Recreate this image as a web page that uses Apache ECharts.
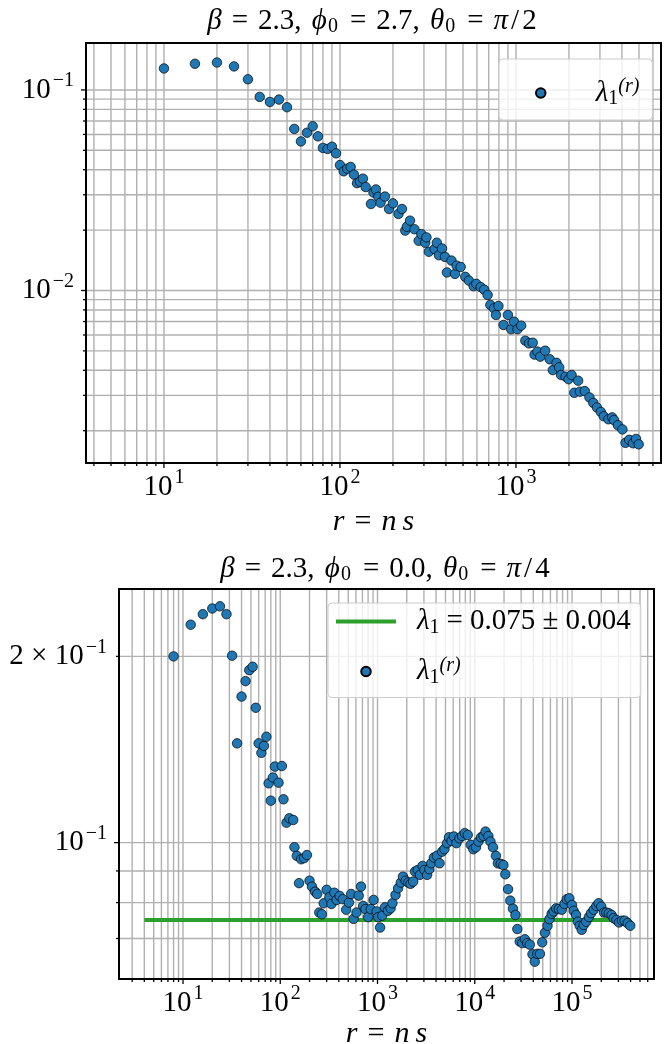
<!DOCTYPE html>
<html><head><meta charset="utf-8">
<script src="https://cdn.jsdelivr.net/npm/echarts@6/dist/echarts.min.js"></script>
<style>html,body{margin:0;padding:0;background:#fff}#c{width:670px;height:1044px}</style>
</head><body><div id="c"></div>
<script>
// ---------- data ----------
const topR = [10,15,20,25,30,35,40,45,50,55,60,65,70,75,80,85,90,95,100,105,110,115,120,125,130,135,140,
150,155,160,165,170,180,190,200,215,225,235,240,250,265,280,290,305,310,320,345,355,365,380,395,405,430,450,460,485,515,
540,575,595,630,660,690,715,750,770,795,850,900,940,975,1020,1070,1130,1185,1245,1275,1325,1375,1465,1555,1620,1700,1760,1805,1915,1990,
2070,2145,2255,2310,2460,2615,2750,2885,3035,3155,3350,3520,3605,3795,4025,4190,4400,4625,4810,4980];
const topLam = [0.128,0.135,0.137,0.131,0.113,0.0923,0.0871,0.0895,0.082,0.0639,0.0554,0.0612,0.0659,0.0587,0.0514,0.0508,0.0521,0.0483,0.0422,0.0393,0.0405,0.0413,0.0378,0.0343,0.0349,0.0361,0.0328,
0.027,0.0308,0.0319,0.0293,0.0274,0.0294,0.0255,0.0272,0.0241,0.0255,0.0199,0.0208,0.0223,0.0202,0.0177,0.0191,0.0173,0.0184,0.0156,0.0161,0.0173,0.015,0.0162,0.0147,0.0123,0.0141,0.0121,0.0133,0.0131,0.0117,
0.0112,0.0105,0.0108,0.0104,0.0101,0.0095,0.00847,0.00815,0.00755,0.00837,0.00673,0.00755,0.00641,0.00699,0.00641,0.00668,0.00562,0.00545,0.00549,0.00479,0.00496,0.00468,0.00501,0.00454,0.00401,0.00436,0.00414,0.00379,0.00372,0.00361,
0.00379,0.00309,0.00355,0.00313,0.00315,0.00293,0.00275,0.00261,0.00248,0.00236,0.00228,0.00233,0.00226,0.00213,0.00203,0.00174,0.0018,0.00173,0.00182,0.00171];

const botR = [8,12,16,20,24,28,32,36,40,44,48,52,56,60,64,68,72,76,80,84,88,96,104,108,116,124,136,140,148,156,164,176,188,200,212,228,240,252,268,280,300,320,336,360,380,408,440,476,508,536,568,608,640,676,712,752,800,852,912,980,1016,1064,1120,1192,1280,1364,1424,1532,1628,1736,1828,1948,2072,2188,2328,2432,2592,2732,2908,3040,3236,3412,3572,3800,4080,4344,4620,4876,5190,5430,5780,6090,6480,6960,7410,7890,8470,9100,9680,10300,10900,11600,12300,12900,13800,14500,15400,16500,17300,18500,19700,20600,22000,23200,24700,26200,27400,29000,30800,32800,34600,36800,39200,41400,44000,46800,49400,52600,56000,58500,61700,64600,68700,73100,78500,83600,88200,93800,99900,104000,110000,115000,120000,126000,132000,140000,149000,157000,167000,178000,188000,200000,213000,225000,239000,255000,268000,286000,304000,327000,348000,373000,397000];
const botLam = [0.200,0.225,0.234,0.239,0.241,0.234,0.2005,0.1447,0.1722,0.1824,0.190,0.1924,0.1652,0.1447,0.1397,0.1433,0.1483,0.1247,0.1169,0.1274,0.1327,0.1250,0.1330,0.1175,0.1077,0.1095,0.1088,0.0983,0.0952,0.0860,0.0940,0.0944,0.0955,0.0868,0.0849,0.0833,0.0826,0.0771,0.0766,0.0798,0.0839,0.0816,0.0796,0.0830,0.0808,0.0820,0.0810,0.0779,0.0800,0.0826,0.0753,0.0771,0.0821,0.0849,0.0790,0.0781,0.0758,0.0781,0.0808,0.0774,0.0758,0.0729,0.0762,0.0786,0.0776,0.0783,0.0798,0.0823,0.0844,0.0862,0.0881,0.0868,0.0862,0.0858,0.0865,0.0898,0.0903,0.0887,0.0917,0.0903,0.0887,0.0906,0.0926,0.0946,0.0952,0.0926,0.0967,0.0976,0.0998,0.1020,0.1006,0.1023,0.0998,0.1016,0.1025,0.1036,0.1029,0.0992,0.0976,0.0983,0.1004,0.1020,0.1025,0.1042,0.1025,0.1004,0.0983,0.0952,0.0926,0.0924,0.0920,0.0889,0.0841,0.0806,0.0782,0.0764,0.0725,0.0692,0.0688,0.0698,0.0688,0.0684,0.0660,0.0642,0.0661,0.0661,0.0690,0.0715,0.0734,0.0752,0.0767,0.0774,0.0783,0.0781,0.0779,0.0796,0.0810,0.0813,0.0793,0.0776,0.0764,0.0745,0.0734,0.0723,0.0736,0.0745,0.0758,0.0769,0.0779,0.0790,0.0798,0.0788,0.0771,0.0771,0.0769,0.0764,0.0755,0.0750,0.0743,0.0748,0.0748,0.0741,0.0734];

const fitR = [4, 400000];
const fitLam = [0.075, 0.075];

// axis limits
const topXRange = [3.606, 6668];
const topYRange = [0.00138, 0.1714];
const botXRange = [2.198, 696600];
const botYRange = [0.0602, 0.257];

// tick values
const topXMajor = [10, 100, 1000];
const topXMinor = [4,5,6,7,8,9,20,30,40,50,60,70,80,90,200,300,400,500,600,700,800,900,2000,3000,4000,5000,6000];
const topYMajor = [0.01, 0.1];
const topYMinor = [0.002,0.003,0.004,0.005,0.006,0.007,0.008,0.009,0.02,0.03,0.04,0.05,0.06,0.07,0.08,0.09];
const botXMajor = [10, 100, 1000, 10000, 100000];
const botXMinor = [3,4,5,6,7,8,9,20,30,40,50,60,70,80,90,200,300,400,500,600,700,800,900,2000,3000,4000,5000,6000,7000,8000,9000,
20000,30000,40000,50000,60000,70000,80000,90000,200000,300000,400000,500000,600000];
const botYMajor = [0.1];
const botYMinor = [0.07, 0.08, 0.09, 0.2];
const botYMinorLabels = [[0.2, '2 \u00d7 10', '\u22121']];

const titles = ['{i|\u03b2}{eq|=}{t|2.3, }{i|\u03d5}{sb|0}{eq|=}{t|2.7, }{i|\u03b8}{sb|0}{eq|=}{i|\u03c0}{sl|/}{t|2}',
                '{i|\u03b2}{eq|=}{t|2.3, }{i|\u03d5}{sb|0}{eq|=}{t|0.0, }{i|\u03b8}{sb|0}{eq|=}{i|\u03c0}{sl|/}{t|4}'];
const xName = '{i|r}{eq|=}{i|n}{th|}{i|s}';

// ---------- styling ----------
const FONT = 'Liberation Serif';
const FS = 29;
const BLUE = '#1f77b4';
const GREEN = '#2ca02c';
const GRIDC = '#b0b0b0';

const tickRich = {
  b: {fontFamily: FONT, fontSize: FS, lineHeight: 38, color: '#000'},
  s: {fontFamily: FONT, fontSize: 20, lineHeight: 20, verticalAlign: 'top', color: '#000', padding: [0, 0, 0, 2]}
};
function powLabel(v) {
  const e = Math.log10(v);
  const k = Math.round(e);
  if (Math.abs(e - k) > 1e-6) return '';
  return '{b|10}{s|' + (k < 0 ? '\u2212' + (-k) : String(k)) + '}';
}

function frameRenderer(xAll, yAll, xMaj, xMin, yMaj, yMin, extraY) {
  return function (params, api) {
    const cs = params.coordSys;
    const L = cs.x, T = cs.y, R = cs.x + cs.width, B = cs.y + cs.height;
    const kids = [];
    const gs = {stroke: GRIDC, lineWidth: 1.4, fill: 'none'};
    const ts = {stroke: '#000', lineWidth: 1.3, fill: 'none'};
    xAll.forEach(v => {
      const px = api.coord([v, yAll[0]])[0];
      kids.push({type: 'line', shape: {x1: px, y1: T, x2: px, y2: B}, style: gs, z2: 0});
    });
    yAll.forEach(v => {
      const py = api.coord([xAll[0], v])[1];
      kids.push({type: 'line', shape: {x1: L, y1: py, x2: R, y2: py}, style: gs, z2: 0});
    });
    xMaj.forEach(v => { const px = api.coord([v, yAll[0]])[0];
      kids.push({type: 'line', shape: {x1: px, y1: B, x2: px, y2: B + 5}, style: ts, z2: 5}); });
    xMin.forEach(v => { const px = api.coord([v, yAll[0]])[0];
      kids.push({type: 'line', shape: {x1: px, y1: B, x2: px, y2: B + 3}, style: ts, z2: 5}); });
    yMaj.forEach(v => { const py = api.coord([xAll[0], v])[1];
      kids.push({type: 'line', shape: {x1: L - 5, y1: py, x2: L, y2: py}, style: ts, z2: 5}); });
    yMin.forEach(v => { const py = api.coord([xAll[0], v])[1];
      kids.push({type: 'line', shape: {x1: L - 3, y1: py, x2: L, y2: py}, style: ts, z2: 5}); });
    (extraY || []).forEach(e => {
      const py = api.coord([xAll[0], e[0]])[1];
      kids.push({type: 'text', z2: 6, style: {
        text: '{b|' + e[1] + '}{s|' + e[2] + '}', rich: tickRich,
        x: L - 12, y: py, align: 'right', verticalAlign: 'middle'}});
    });
    kids.push({type: 'rect', shape: {x: L, y: T, width: cs.width, height: cs.height},
      style: {fill: 'none', stroke: '#000', lineWidth: 2}, z2: 10});
    return {type: 'group', children: kids};
  };
}

function legendRich(gapW) {
  return {
    l: {fontFamily: FONT, fontSize: FS, lineHeight: 32, fontStyle: 'italic', color: '#000'},
    t: {fontFamily: FONT, fontSize: FS, lineHeight: 32, color: '#000'},
    eq: {fontFamily: FONT, fontSize: FS, lineHeight: 32, color: '#000', padding: [0, 7, 0, 7]},
    sub: {fontFamily: FONT, fontSize: 20, lineHeight: 20, verticalAlign: 'bottom', color: '#000'},
    sup: {fontFamily: FONT, fontSize: 20, lineHeight: 20, verticalAlign: 'top', fontStyle: 'italic', color: '#000'},
    gap: {fontFamily: FONT, fontSize: FS, lineHeight: 32, width: gapW}
  };
}
function legendFmt(name) {
  if (name === 'fit') return '{gap|}{l|\u03bb}{sub|1}{eq|=}{t|0.075 \u00b1 0.004}';
  return '{gap|}{l|\u03bb}{sub|1}{sup|(r)}';
}
const legendBase = {
  orient: 'vertical', align: 'left', itemWidth: 60, itemHeight: 9.5, itemGap: 18, symbolKeepAspect: true,
  backgroundColor: 'rgba(255,255,255,0.8)', borderColor: '#cccccc', borderWidth: 1, borderRadius: 4,
  selectedMode: false, formatter: legendFmt
};
const LINE_ICON = 'path://M0,0L60,0L60,4L0,4Z';

const titleStyle = {
  fontFamily: FONT, fontSize: FS, fontWeight: 'normal', color: '#000', lineHeight: 32,
  rich: {
    i: {fontFamily: FONT, fontSize: FS, lineHeight: 32, fontStyle: 'italic', color: '#000'},
    t: {fontFamily: FONT, fontSize: FS, lineHeight: 32, color: '#000', padding: [0, 3, 0, 0]},
    eq: {fontFamily: FONT, fontSize: FS, lineHeight: 32, color: '#000', padding: [0, 10, 0, 10]},
    sl: {fontFamily: FONT, fontSize: FS, lineHeight: 32, color: '#000', padding: [0, 3, 0, 3]},
    sb: {fontFamily: FONT, fontSize: 20, lineHeight: 20, verticalAlign: 'bottom', color: '#000', padding: [0, 2, 0, 1]}
  }
};
const nameStyle = {
  fontFamily: FONT, fontSize: FS, color: '#000', lineHeight: 30,
  rich: {
    i: {fontFamily: FONT, fontSize: 30, lineHeight: 30, fontStyle: 'italic', color: '#000'},
    eq: {fontFamily: FONT, fontSize: 30, lineHeight: 30, color: '#000', padding: [0, 10, 0, 10]},
    th: {fontFamily: FONT, fontSize: 30, lineHeight: 30, width: 6}
  }
};

function xAxisOpt(gi, range, majors, gap) {
  return {
    type: 'log', logBase: 10, gridIndex: gi, min: range[0], max: range[1],
    axisLine: {show: false}, axisTick: {show: false}, splitLine: {show: false}, minorTick: {show: false},
    axisLabel: {customValues: majors, formatter: powLabel, rich: tickRich, margin: 5, color: '#000'},
    name: xName, nameLocation: 'middle', nameGap: gap, nameMoveOverlap: false, nameTextStyle: nameStyle
  };
}
function yAxisOpt(gi, range, majors) {
  return {
    type: 'log', logBase: 10, gridIndex: gi, min: range[0], max: range[1],
    axisLine: {show: false}, axisTick: {show: false}, splitLine: {show: false}, minorTick: {show: false},
    axisLabel: {customValues: majors, formatter: powLabel, rich: tickRich, margin: 12, color: '#000'}
  };
}

const chart = echarts.init(document.getElementById('c'), null, {renderer: 'canvas'});
chart.setOption({
  animation: false,
  backgroundColor: '#fff',
  title: [
    {text: titles[0], left: 373.5, top: 5, textAlign: 'center', padding: 0, textStyle: titleStyle},
    {text: titles[1], left: 386.5, top: 553, textAlign: 'center', padding: 0, textStyle: titleStyle}
  ],
  grid: [
    {left: 86, top: 43, width: 575, height: 420, containLabel: false, outerBoundsMode: 'none'},
    {left: 119, top: 589, width: 535, height: 390, containLabel: false, outerBoundsMode: 'none'}
  ],
  xAxis: [xAxisOpt(0, topXRange, topXMajor, 44), xAxisOpt(1, botXRange, botXMajor, 40)],
  yAxis: [yAxisOpt(0, topYRange, topYMajor), yAxisOpt(1, botYRange, botYMajor)],
  legend: [
    Object.assign({}, legendBase, {data: [{name: 'lamTop', icon: 'circle'}], left: 499, top: 59, padding: [18, 13, 11, 36],
      textStyle: {fontFamily: FONT, fontSize: FS, color: '#000', rich: legendRich(20)}}),
    Object.assign({}, legendBase, {data: [{name: 'fit', icon: LINE_ICON}, {name: 'lamBot', icon: 'circle'}], left: 328, top: 603, padding: [4, 10, 10, 8],
      textStyle: {fontFamily: FONT, fontSize: FS, color: '#000', rich: legendRich(16)}})
  ],
  series: [
    {type: 'custom', xAxisIndex: 0, yAxisIndex: 0, silent: true, clip: false, z: 1,
     renderItem: frameRenderer(topXMajor.concat(topXMinor), topYMajor.concat(topYMinor), topXMajor, topXMinor, topYMajor, topYMinor, []),
     data: [[topXRange[0], topYRange[0]]]},
    {type: 'custom', xAxisIndex: 1, yAxisIndex: 1, silent: true, clip: false, z: 1,
     renderItem: frameRenderer(botXMajor.concat(botXMinor), botYMajor.concat(botYMinor), botXMajor, botXMinor, botYMajor, botYMinor, botYMinorLabels),
     data: [[botXRange[0], botYRange[0]]]},
    {name: 'lamTop', type: 'scatter', xAxisIndex: 0, yAxisIndex: 0, z: 3,
     symbol: 'circle', symbolSize: 9.5,
     itemStyle: {color: BLUE, borderColor: '#000', borderWidth: 0.7, opacity: 1},
     data: topR.map((r, i) => [r, topLam[i]])},
    {name: 'fit', type: 'line', xAxisIndex: 1, yAxisIndex: 1, z: 2,
     symbol: 'none', showSymbol: false,
     lineStyle: {color: GREEN, width: 4}, itemStyle: {color: GREEN},
     data: fitR.map((r, i) => [r, fitLam[i]])},
    {name: 'lamBot', type: 'scatter', xAxisIndex: 1, yAxisIndex: 1, z: 3,
     symbol: 'circle', symbolSize: 9.5,
     itemStyle: {color: BLUE, borderColor: '#000', borderWidth: 0.7, opacity: 1},
     data: botR.map((r, i) => [r, botLam[i]])}
  ]
});
</script>
</body></html>
